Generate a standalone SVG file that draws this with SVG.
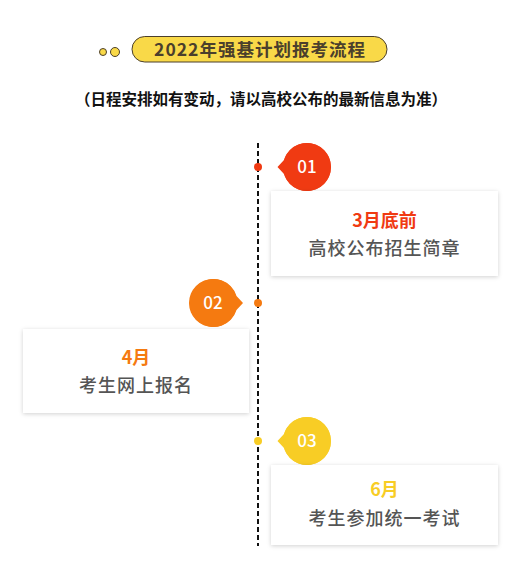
<svg xmlns="http://www.w3.org/2000/svg" width="532" height="561" viewBox="0 0 532 561">
<style>
.cjk{font-family:"Noto Sans CJK SC","Noto Sans",sans-serif}
.card{fill:#fff;filter:url(#sh)}
.date{font-size:18px;font-weight:bold;text-anchor:middle}
.desc{font-size:18px;font-weight:500;fill:#555;text-anchor:middle;letter-spacing:1px}
.num{font-size:17px;font-weight:500;fill:#fff;text-anchor:middle;font-family:"Noto Sans CJK SC","Noto Sans",sans-serif}
</style>
<defs>
<filter id="sh" x="-10%" y="-20%" width="120%" height="140%">
<feDropShadow dx="0" dy="1" stdDeviation="2" flood-color="#000" flood-opacity="0.18"/>
</filter>
</defs>
<rect width="532" height="561" fill="#fff"/>
<g id="title">
<circle cx="103" cy="52" r="3.5" fill="#f9d948" stroke="#4b3f2c" stroke-width="1"/>
<circle cx="115" cy="52" r="4.5" fill="#f9d948" stroke="#4b3f2c" stroke-width="1"/>
<rect x="132" y="36.5" width="255" height="25.5" rx="12.75" fill="#f9d948" stroke="#4b3f2c" stroke-width="1"/>
<text class="cjk" x="260" y="55.5" font-size="17.5" font-weight="bold" fill="#4b3f2c" text-anchor="middle" letter-spacing="1">2022年强基计划报考流程</text>
</g>
<g id="subtitle">
<text class="cjk" x="261" y="105" font-size="15.5" font-weight="bold" fill="#111" text-anchor="middle">（日程安排如有变动，请以高校公布的最新信息为准）</text>
</g>
<g id="connectors">
<line x1="258" y1="143" x2="258" y2="546" stroke="#111" stroke-width="2" stroke-dasharray="5,3"/>
</g>
<g id="step1">
<circle cx="258" cy="167" r="4" fill="#f03a12"/>
<path d="M277.5 167 L284 160 A24 24 0 1 1 284 174 Z" fill="#f03a12"/>
<circle cx="307" cy="167" r="24" fill="#f03a12"/>
<text class="num" x="307" y="173">01</text>
<rect class="card" x="271" y="191" width="227" height="85"/>
<text class="cjk date" x="384.5" y="226.5" fill="#f03a12">3月底前</text>
<text class="cjk desc" x="384.5" y="254.5">高校公布招生简章</text>
</g>
<g id="step2">
<circle cx="258" cy="303" r="4" fill="#f57a10"/>
<path d="M243 303 L236.5 296 A24 24 0 1 0 236.5 310 Z" fill="#f57a10"/>
<circle cx="213" cy="303" r="24" fill="#f57a10"/>
<text class="num" x="213" y="309">02</text>
<rect class="card" x="23" y="329" width="226" height="84"/>
<text class="cjk date" x="136" y="363.5" fill="#f57a10">4月</text>
<text class="cjk desc" x="136" y="391.5">考生网上报名</text>
</g>
<g id="step3">
<circle cx="258" cy="441" r="4" fill="#f8cd25"/>
<path d="M277.5 441 L284 434 A24 24 0 1 1 284 448 Z" fill="#f8cd25"/>
<circle cx="307" cy="441" r="24" fill="#f8cd25"/>
<text class="num" x="307" y="447">03</text>
<rect class="card" x="271" y="465" width="227" height="80"/>
<text class="cjk date" x="384.5" y="495.5" fill="#f8cd25">6月</text>
<text class="cjk desc" x="384.5" y="524.5">考生参加统一考试</text>
</g>
</svg>
